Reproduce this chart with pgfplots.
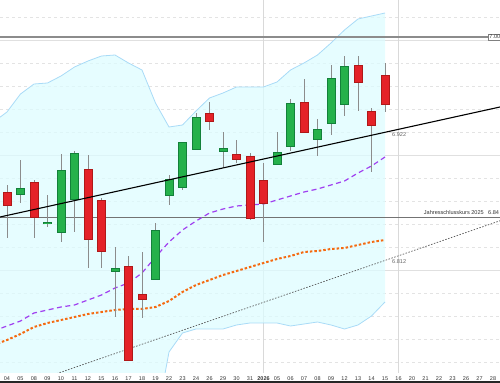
\documentclass[border=0pt]{standalone}
\usepackage{pgfplots}
\pgfplotsset{compat=1.18}
\usepackage{pgfplotstable}
\usepackage{fontspec}
\setmainfont{Liberation Sans}

\definecolor{bandfill}{HTML}{DDFCFF}
\definecolor{bandline}{HTML}{A9DBF7}
\definecolor{cred}{HTML}{E42228}
\definecolor{credd}{HTML}{B01818}
\definecolor{cgreen}{HTML}{25B14B}
\definecolor{cgreend}{HTML}{13813A}
\definecolor{cpurple}{HTML}{A040F0}
\definecolor{corange}{HTML}{F56A10}

\pgfplotstableread{
x o h l c
1 6.8607 6.8913 6.8526 6.8652
3 6.8340 6.8598 6.8310 6.8352
4 6.8265 6.8967 6.8175 6.8814
5 6.8562 6.8994 6.8265 6.8967
8 6.7914 6.8130 6.7500 6.7932
11 6.7842 6.8346 6.7833 6.8274
12 6.8598 6.8778 6.8508 6.8733
13 6.8670 6.9075 6.8643 6.9066
14 6.9012 6.9336 6.9003 6.9291
16 6.8994 6.9165 6.8841 6.9012
20 6.8877 6.9165 6.8868 6.8976
21 6.9039 6.9462 6.8994 6.9417
23 6.9102 6.9282 6.8949 6.9183
24 6.9246 6.9768 6.9138 6.9642
25 6.9417 6.9849 6.9309 6.9750
}\greendata

\pgfplotstableread{
x o h l c
0 6.8616 6.8688 6.8211 6.8508
2 6.8706 6.8733 6.8211 6.8400
6 6.8823 6.8958 6.7941 6.8202
7 6.8544 6.8571 6.7941 6.8094
9 6.7950 6.8049 6.7104 6.7113
10 6.7698 6.8085 6.7491 6.7662
15 6.9327 6.9435 6.9183 6.9264
17 6.8958 6.9093 6.8886 6.8922
18 6.8940 6.8976 6.8373 6.8391
19 6.8724 6.8886 6.8175 6.8526
22 6.9426 6.9642 6.9156 6.9165
26 6.9759 6.9849 6.9354 6.9615
27 6.9345 6.9381 6.8805 6.9228
28 6.9669 6.9786 6.9345 6.9417
}\reddata

\pgfplotsset{
  candle/.style={draw=none, mark=none, error bars/.cd, y dir=both, y explicit, error mark=none,
    error bar style={line cap=butt, #1}},
}

\begin{document}
\begin{tikzpicture}
\clip (0,-10bp) rectangle (500bp,373bp);
\begin{axis}[
  at={(0,0)}, anchor=south west,
  scale only axis, width=500bp, height=373bp,
  xmin=-0.5185, xmax=36.5185, ymin=6.6996, ymax=7.0353,
  axis line style={draw=none},
  xtick={0,...,36},
  xticklabels={04,05,08,09,10,11,12,15,16,17,18,19,22,23,24,26,29,30,31,\textbf{2026},05,06,07,08,09,12,13,14,15,16,20,21,22,23,26,27,28},
  xticklabel style={font=\fontsize{5.5}{6}\selectfont, text=black!80},
  major tick length=0, minor tick length=0,
  ytick={6.7923,6.8958,6.9993}, yticklabels={},
  minor ytick={6.7095,6.7302,6.7509,6.7716,6.8130,6.8337,6.8544,6.8751,6.9165,6.9372,6.9579,6.9786,7.0200},
  ymajorgrids, yminorgrids,
  major grid style={black!12},
  minor grid style={black!11, dashed},
  extra x ticks={19,29}, extra x tick labels={},
  extra x tick style={xmajorgrids=true, major grid style={black!15}},
  clip=true,
]
% Bollinger band
\addplot[fill=bandfill, fill opacity=0.75, draw=none, forget plot] coordinates {
(-1,6.9255) (0,6.9345) (1,6.9507) (2,6.9597) (3,6.9606) (4,6.9669) (5,6.9750) (6,6.9804) (7,6.9849) (8,6.9858) (9,6.9786) (10,6.9723) (11,6.9426) (12,6.9210) (13,6.9228) (14,6.9354) (15,6.9471) (16,6.9516) (17,6.9570) (18,6.9570) (19,6.9570) (20,6.9615) (21,6.9723) (22,6.9786) (23,6.9858) (24,6.9966) (25,7.0083) (26,7.0182) (27,7.0209) (28,7.0236)
(28,6.7635) (27,6.7509) (26,6.7428) (25,6.7392) (24,6.7428) (23,6.7455) (22,6.7437) (21,6.7419) (20,6.7446) (19,6.7446) (18,6.7446) (17,6.7428) (16,6.7392) (15,6.7392) (14,6.7392) (13,6.7356) (12,6.7185) (11,6.6528) (10,6.6393) (9,6.6393) (8,6.6393) (7,6.6393) (6,6.6393) (5,6.6393) (4,6.6393) (3,6.6393) (2,6.6393) (1,6.6393) (0,6.6393) (-1,6.6393)
} -- cycle;
\addplot[bandline, line width=0.8bp] coordinates {
(-1,6.9255) (0,6.9345) (1,6.9507) (2,6.9597) (3,6.9606) (4,6.9669) (5,6.9750) (6,6.9804) (7,6.9849) (8,6.9858) (9,6.9786) (10,6.9723) (11,6.9426) (12,6.9210) (13,6.9228) (14,6.9354) (15,6.9471) (16,6.9516) (17,6.9570) (18,6.9570) (19,6.9570) (20,6.9615) (21,6.9723) (22,6.9786) (23,6.9858) (24,6.9966) (25,7.0083) (26,7.0182) (27,7.0209) (28,7.0236)};
\addplot[bandline, line width=0.8bp] coordinates {
(10,6.6393) (11,6.6528) (12,6.7185) (13,6.7356) (14,6.7392) (15,6.7392) (16,6.7392) (17,6.7428) (18,6.7446) (19,6.7446) (20,6.7446) (21,6.7419) (22,6.7437) (23,6.7455) (24,6.7428) (25,6.7392) (26,6.7428) (27,6.7509) (28,6.7635)};

% horizontal reference lines
\addplot[black!45, line width=1.5bp] coordinates {(-0.5185,7.0020) (36.5185,7.0020)};
\addplot[black!55, line width=0.9bp] coordinates {(-0.5185,6.8400) (36.5185,6.8400)};

% moving averages
\addplot[corange, line width=2bp, dash pattern=on 2.5bp off 2bp] coordinates {
(-1,6.7248) (0,6.7293) (1,6.7347) (2,6.7410) (3,6.7446) (4,6.7473) (5,6.7500) (6,6.7527) (7,6.7545) (8,6.7563) (9,6.7572) (10,6.7572) (11,6.7590) (12,6.7644) (13,6.7725) (14,6.7788) (15,6.7833) (16,6.7878) (17,6.7914) (18,6.7950) (19,6.7986) (20,6.8022) (21,6.8049) (22,6.8085) (23,6.8094) (24,6.8112) (25,6.8121) (26,6.8148) (27,6.8175) (28,6.8193)};
\addplot[cpurple, line width=1.2bp, dash pattern=on 5bp off 3.5bp] coordinates {
(-1,6.7374) (0,6.7419) (1,6.7464) (2,6.7536) (3,6.7563) (4,6.7590) (5,6.7608) (6,6.7653) (7,6.7698) (8,6.7761) (9,6.7806) (10,6.7896) (11,6.8040) (12,6.8175) (13,6.8283) (14,6.8364) (15,6.8436) (16,6.8472) (17,6.8499) (18,6.8508) (19,6.8517) (20,6.8553) (21,6.8589) (22,6.8625) (23,6.8652) (24,6.8688) (25,6.8724) (26,6.8796) (27,6.8859) (28,6.8940)};

% gray dotted trend line
\addplot[black!65, line width=0.7bp, dash pattern=on 1.5bp off 1.5bp] coordinates {(-0.5185,6.6814) (36.5185,6.8366)};

% wicks
\addplot[candle={draw=black!45, line width=1bp}]
  table[x=x, y expr={(\thisrow{h}+\thisrow{l})/2}, y error expr={(\thisrow{h}-\thisrow{l})/2}] {\greendata};
\addplot[candle={draw=black!45, line width=1bp}]
  table[x=x, y expr={(\thisrow{h}+\thisrow{l})/2}, y error expr={(\thisrow{h}-\thisrow{l})/2}] {\reddata};

% bodies: outline, then fill
\addplot[candle={draw=cgreend, line width=9bp}]
  table[x=x, y expr={(\thisrow{o}+\thisrow{c})/2}, y error expr={abs(\thisrow{o}-\thisrow{c})/2+0.0006}] {\greendata};
\addplot[candle={draw=cgreen, line width=7bp}]
  table[x=x, y expr={(\thisrow{o}+\thisrow{c})/2}, y error expr={max(abs(\thisrow{o}-\thisrow{c})/2-0.0003,0)}] {\greendata};
\addplot[candle={draw=credd, line width=9bp}]
  table[x=x, y expr={(\thisrow{o}+\thisrow{c})/2}, y error expr={abs(\thisrow{o}-\thisrow{c})/2+0.0006}] {\reddata};
\addplot[candle={draw=cred, line width=7bp}]
  table[x=x, y expr={(\thisrow{o}+\thisrow{c})/2}, y error expr={max(abs(\thisrow{o}-\thisrow{c})/2-0.0003,0)}] {\reddata};

% black trend line
\addplot[black, line width=1.1bp] coordinates {(-0.5185,6.8400) (36.5185,6.9390)};

\draw[black!25, line width=0.8bp] (rel axis cs:0,0) -- (rel axis cs:1,0);

\node[draw=black!50, fill=white, inner sep=1.2bp, anchor=west, font=\fontsize{5.6}{6}\selectfont, text=black!75] at (axis cs:35.63,7.0020) {7.00};
\node[anchor=base east, inner sep=0pt, font=\fontsize{5.6}{6}\selectfont, text=black!80] at (axis cs:35.33,6.8418) {Jahresschlusskurs 2025};
\node[anchor=base west, inner sep=0pt, font=\fontsize{5.6}{6}\selectfont, text=black!80] at (axis cs:35.63,6.8418) {6.84};
\node[anchor=west, inner sep=0pt, font=\fontsize{5.6}{6}\selectfont, text=black!60] at (axis cs:28.52,6.9138) {6.922};
\node[anchor=west, inner sep=0pt, font=\fontsize{5.6}{6}\selectfont, text=black!60] at (axis cs:28.52,6.7995) {6.812};
\end{axis}
\fill[black!85] (0,-10bp) rectangle (500bp,-8.3bp);
\end{tikzpicture}
\end{document}
